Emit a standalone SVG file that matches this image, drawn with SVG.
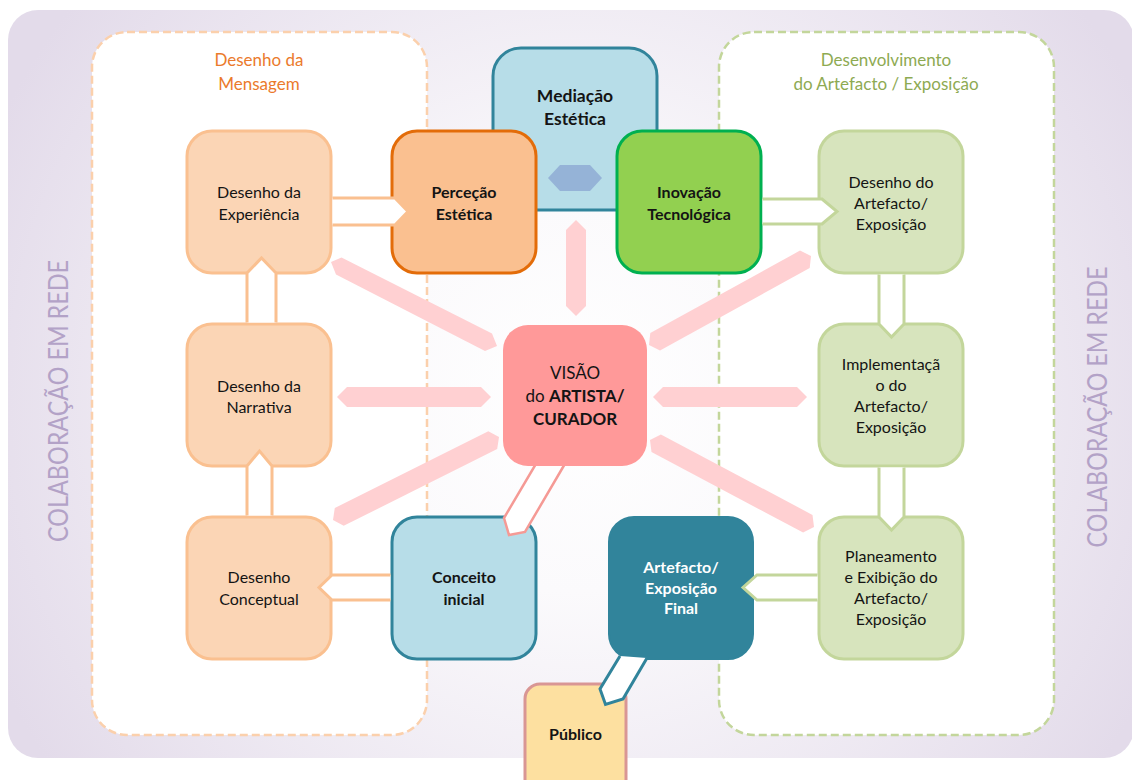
<svg xmlns="http://www.w3.org/2000/svg" width="1132" height="780" viewBox="0 0 1132 780">
<defs>
<radialGradient id="bg" gradientUnits="userSpaceOnUse" cx="575" cy="400" r="640">
<stop offset="0" stop-color="#FFFFFF"/>
<stop offset="0.3" stop-color="#FBFAFC"/>
<stop offset="1" stop-color="#E3DBEA"/>
</radialGradient>
<style>
.t{font-family:Lato,"Noto Sans","DejaVu Sans",sans-serif;font-size:16px;fill:#141414;text-anchor:middle}
.b{font-weight:bold}
.w{fill:#FFFFFF}
.peach{fill:#FBD5B5;stroke:#FAC090;stroke-width:3}
.green{fill:#D7E4BD;stroke:#C3D69B;stroke-width:3}
.pink{fill:#FFD0D2}
.wp{fill:#FFFFFF;stroke:#FAC090;stroke-width:3;stroke-linejoin:miter}
.wg{fill:#FFFFFF;stroke:#C3D69B;stroke-width:3;stroke-linejoin:miter}
.side{font-family:Lato,"Noto Sans",sans-serif;font-size:26px;fill:#B3A2C7;text-anchor:middle}
.title{font-family:Lato,"Noto Sans",sans-serif;font-size:17px;text-anchor:middle}
</style>
</defs>
<rect width="1132" height="780" fill="#FFFFFF"/>
<rect x="8" y="10" width="1126" height="748" rx="30" fill="url(#bg)"/>

<g id="lado-esquerdo"><text class="side" transform="translate(68,401) rotate(-90)" textLength="282" lengthAdjust="spacingAndGlyphs">COLABORAÇÃO EM REDE</text></g>
<g id="lado-direito"><text class="side" transform="translate(1107,407) rotate(-90)" textLength="281" lengthAdjust="spacingAndGlyphs">COLABORAÇÃO EM REDE</text></g>

<g id="grupo-mensagem">
<rect x="92" y="32" width="335" height="703" rx="35" fill="#FFFFFF" stroke="#FBD0AC" stroke-width="2.5" stroke-dasharray="8 4"/>
<text class="title" fill="#EB7A2C" x="259" y="66">Desenho da</text>
<text class="title" fill="#EB7A2C" x="259" y="90">Mensagem</text>
</g>
<g id="grupo-artefacto">
<rect x="719" y="32" width="335" height="703" rx="35" fill="#FFFFFF" stroke="#C3D69B" stroke-width="2.5" stroke-dasharray="8 4"/>
<text class="title" fill="#8EAA52" x="886" y="66">Desenvolvimento</text>
<text class="title" fill="#8EAA52" x="886" y="90">do Artefacto / Exposição</text>
</g>

<g id="mediacao">
<rect x="493" y="48" width="164" height="162" rx="28" fill="#B7DDE8" stroke="#31849B" stroke-width="3"/>
<text class="t b" x="575" y="102" style="font-size:17.5px">Mediação</text>
<text class="t b" x="575" y="125" style="font-size:17.5px">Estética</text>
</g>
<g id="experiencia">
<rect class="peach" x="187" y="131" width="144" height="142" rx="25"/>
<text class="t" x="259" y="197.5">Desenho da</text>
<text class="t" x="259" y="219.5">Experiência</text>
</g>
<g id="narrativa">
<rect class="peach" x="187" y="324" width="144" height="142" rx="25"/>
<text class="t" x="259" y="391.5">Desenho da</text>
<text class="t" x="259" y="413">Narrativa</text>
</g>
<g id="conceptual">
<rect class="peach" x="187" y="517" width="144" height="142" rx="25"/>
<text class="t" x="259" y="583">Desenho</text>
<text class="t" x="259" y="605">Conceptual</text>
</g>
<g id="percecao">
<rect x="392" y="131" width="144" height="142" rx="25" fill="#FAC090" stroke="#E36C09" stroke-width="3"/>
<text class="t b" x="464" y="198">Perceção</text>
<text class="t b" x="464" y="219.5">Estética</text>
</g>
<g id="inovacao">
<rect x="617" y="131" width="144" height="142" rx="25" fill="#92D050" stroke="#00B050" stroke-width="3"/>
<text class="t b" x="689" y="198">Inovação</text>
<text class="t b" x="689" y="219.5">Tecnológica</text>
</g>
<g id="desenho-artefacto">
<rect class="green" x="819" y="131" width="144" height="142" rx="25"/>
<text class="t" x="891" y="187.5">Desenho do</text>
<text class="t" x="891" y="208.5">Artefacto/</text>
<text class="t" x="891" y="229.5">Exposição</text>
</g>
<g id="implementacao">
<rect class="green" x="819" y="324" width="144" height="142" rx="25"/>
<text class="t" x="891" y="369.5">Implementaçã</text>
<text class="t" x="891" y="390.5">o do</text>
<text class="t" x="891" y="411.5">Artefacto/</text>
<text class="t" x="891" y="432.5">Exposição</text>
</g>
<g id="planeamento">
<rect class="green" x="819" y="517" width="144" height="142" rx="25"/>
<text class="t" x="891" y="562">Planeamento</text>
<text class="t" x="891" y="583">e Exibição do</text>
<text class="t" x="891" y="604">Artefacto/</text>
<text class="t" x="891" y="625">Exposição</text>
</g>
<g id="conceito">
<rect x="392" y="517" width="144" height="142" rx="25" fill="#B7DDE8" stroke="#31849B" stroke-width="3"/>
<text class="t b" x="464" y="582.5">Conceito</text>
<text class="t b" x="464" y="604.5">inicial</text>
</g>
<g id="artefacto-final">
<rect x="609" y="517" width="144" height="142" rx="25" fill="#31849B" stroke="#31849B" stroke-width="2"/>
<text class="t b w" x="681" y="572.5">Artefacto/</text>
<text class="t b w" x="681" y="593.5">Exposição</text>
<text class="t b w" x="681" y="613.5">Final</text>
</g>
<g id="publico">
<rect x="525" y="684" width="101" height="112" rx="15" fill="#FDE0A0" stroke="#D99694" stroke-width="3"/>
<text class="t b" x="575.5" y="739.5">Público</text>
</g>

<g id="conectores">
<polygon class="pink" points="576,316 566,306 566,230 576,220 586,230 586,306"/>
<polygon class="pink" points="337,397 347,387 481,387 491,397 481,407 347,407"/>
<polygon class="pink" points="653,397 663,387 797,387 807,397 797,407 663,407"/>
<polygon class="pink" points="331,262 336,274.5 485,350.9 497,346 492,333.5 341.5,257.5"/>
<polygon class="pink" points="333,520 343.7,525.8 497.2,449.1 499,437 488.3,431.2 334.8,507.9"/>
<polygon class="pink" points="649,345 660,350.4 809.7,268.1 811,256 800,250.6 650.3,332.9"/>
<polygon class="pink" points="650,440 651.5,452.1 803.1,532.6 814,527 812.5,514.9 660.9,434.4"/>
<polygon points="548,178 560,165 590,165 602,178 590,191 560,191" fill="#95B3D7"/>
<path class="wp" d="M332.5 198 H395 L408 211.5 L395 225 H332.5"/>
<path class="wp" d="M247 322.5 V273 L261.5 258 L276 273 V322.5"/>
<path class="wp" d="M247 515.5 V466 L259.5 451 L272 466 V515.5"/>
<path class="wp" d="M390.5 575 H332 L319 587.5 L332 600 H390.5"/>
<path class="wg" d="M762.5 199 H822 L837 211.5 L822 224 H762.5"/>
<path class="wg" d="M879 274.5 V324 L891.5 337 L904 324 V274.5"/>
<path class="wg" d="M879 467.5 V517 L891.5 530 L904 517 V467.5"/>
<path class="wg" d="M817.5 575 H757 L743 587.5 L757 600 H817.5"/>
<path d="M647 658 L623 699 L605.5 704.5 L600 689 L620 656" fill="#FFFFFF" stroke="#31849B" stroke-width="3" stroke-linejoin="miter"/>
<path d="M566 462 L525 532 L509 535 L504 518 L537 462 Z" fill="#FFFFFF" stroke="#F59A95" stroke-width="2.5" stroke-linejoin="miter"/>
</g>

<g id="visao">
<rect x="503" y="325" width="144" height="141" rx="25" fill="#FF9999"/>
<text class="t" x="575" y="379" style="font-size:17px">VISÃO</text>
<text class="t" x="575" y="402" style="font-size:17px">do <tspan font-weight="bold">ARTISTA/</tspan></text>
<text class="t b" x="575" y="425" style="font-size:17px">CURADOR</text>
</g>
</svg>
